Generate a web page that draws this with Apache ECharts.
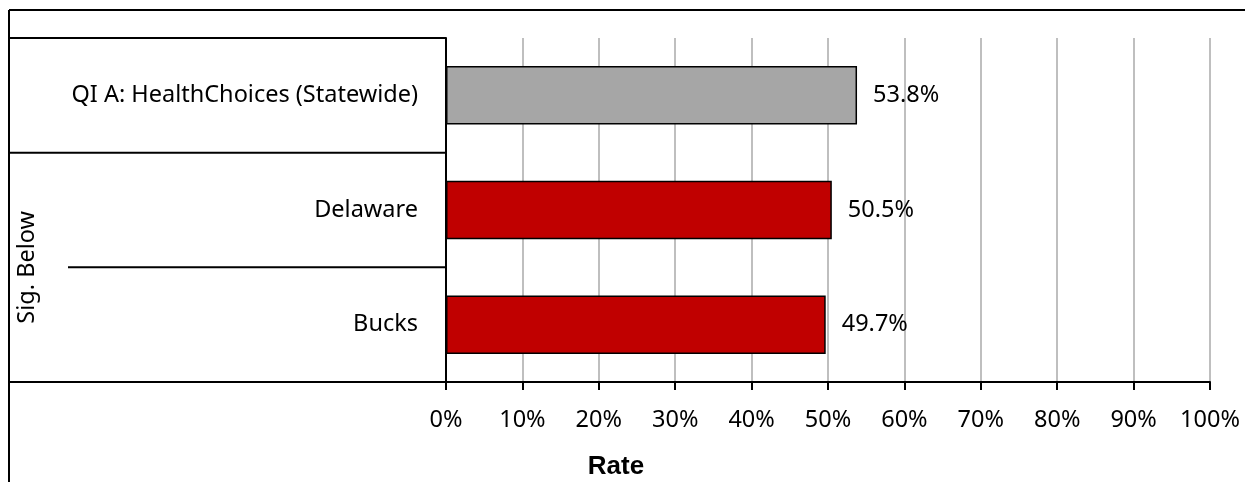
<!DOCTYPE html>
<html>
<head>
<meta charset="utf-8">
<script src="https://cdn.jsdelivr.net/npm/echarts@6/dist/echarts.min.js"></script>
<style>
  html, body { margin: 0; padding: 0; background: #fff; }
  #chart { width: 1245px; height: 482px; }
</style>
</head>
<body>
<div id="chart"></div>
<script>
// Rates by county, compared with the statewide HealthChoices rate
const categories = ['QI A: HealthChoices (Statewide)', 'Delaware', 'Bucks'];
const rates = [53.8, 50.5, 49.7];
const barColors = ['#A6A6A6', '#C00000', '#C00000'];
const groupLabel = 'Sig. Below';
const axisTitle = 'Rate';

const W = 1245, H = 482;
const grid = { left: 446, right: 35, top: 38, bottom: 100 };
const font = '"Noto Sans", "Open Sans", sans-serif';
const fontSize = 23.5;

const chart = echarts.init(document.getElementById('chart'), null, { renderer: 'canvas' });

// Band boundaries of the category axis (used for the table-style row lines)
const plotH = H - grid.top - grid.bottom;
const bandH = plotH / categories.length;
const bandY = i => grid.top + i * bandH;

const lineStyle = { stroke: '#000', lineWidth: 2 };
const hLine = (x1, x2, y) => ({ type: 'line', shape: { x1, y1: y, x2, y2: y }, style: lineStyle, silent: true });

const graphics = [
  // outer frame, top and left
  { type: 'line', shape: { x1: 9, y1: 10, x2: W, y2: 10 }, style: lineStyle, silent: true },
  { type: 'line', shape: { x1: 9, y1: 10, x2: 9, y2: H }, style: lineStyle, silent: true },
  // row separators of the label column
  hLine(9, grid.left, bandY(0)),
  hLine(9, grid.left, bandY(1)),
  hLine(68, grid.left, bandY(2)),
  hLine(9, grid.left, bandY(3)),
  // group label spanning the last two rows
  {
    type: 'text', x: 27, y: (bandY(1) + bandY(3)) / 2, rotation: Math.PI / 2,
    style: { text: groupLabel, font: fontSize + 'px ' + font, fill: '#000', align: 'center', verticalAlign: 'middle' },
    silent: true
  },
  // axis title
  {
    type: 'text', x: 616, y: 467,
    style: { text: axisTitle, font: 'bold 26px "Liberation Sans", Arial, sans-serif', fill: '#000', align: 'center', verticalAlign: 'middle' },
    silent: true
  }
];

chart.setOption({
  animation: false,
  grid: { left: grid.left, right: grid.right, top: grid.top, bottom: grid.bottom },
  xAxis: {
    type: 'value', min: 0, max: 100, interval: 10,
    axisLine: { show: true, lineStyle: { color: '#000', width: 2 } },
    axisTick: { show: true, length: 8, lineStyle: { color: '#000', width: 2 } },
    axisLabel: { formatter: '{value}%', color: '#000', fontSize: fontSize, fontFamily: font, margin: 26 },
    splitLine: { show: true, lineStyle: { color: '#BFBFBF', width: 2 } }
  },
  yAxis: {
    type: 'category', data: categories, inverse: true,
    axisLine: { show: true, lineStyle: { color: '#000', width: 2 } },
    axisTick: { show: false },
    axisLabel: { color: '#000', fontSize: fontSize, fontFamily: font, margin: 28 },
    splitLine: { show: false }
  },
  series: [{
    type: 'bar',
    barWidth: '51%',
    data: rates.map((v, i) => ({ value: v, itemStyle: { color: barColors[i] } })),
    itemStyle: { borderColor: '#000', borderWidth: 1.5 },
    label: {
      show: true, position: 'right', distance: 16,
      formatter: p => p.value.toFixed(1) + '%',
      color: '#000', fontSize: fontSize, fontFamily: font
    }
  }],
  graphic: graphics
});
</script>
</body>
</html>
